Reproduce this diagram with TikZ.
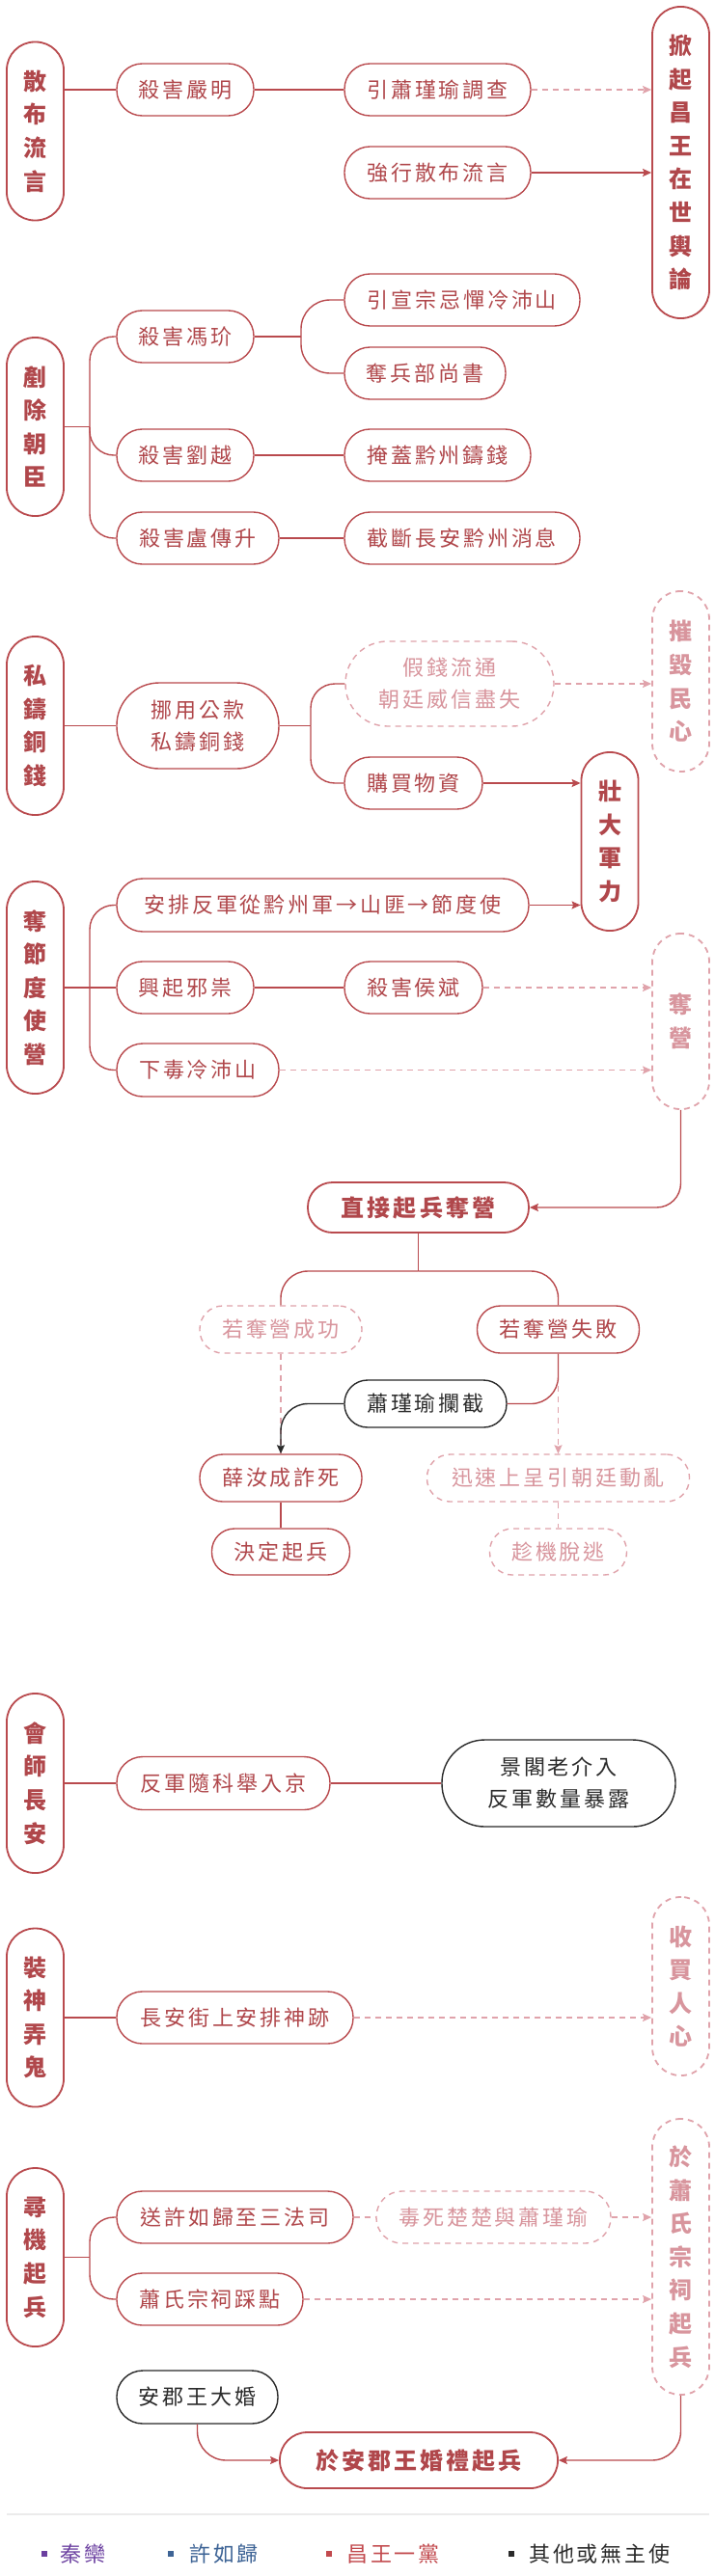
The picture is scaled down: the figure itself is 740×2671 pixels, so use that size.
\documentclass[tikz,border=0pt]{standalone}
\usepackage{fontspec}
\setmainfont{Noto Sans CJK TC}[LetterSpace=13]
\newfontfamily\vfont{Noto Sans CJK TC}
\usetikzlibrary{arrows.meta,calc}
\definecolor{cred}{HTML}{B94A4E}
\definecolor{ctext}{HTML}{B0474B}
\definecolor{cpink}{HTML}{E0A3AB}
\definecolor{cpinktext}{HTML}{D8959D}
\definecolor{cblack}{HTML}{2B2B2B}
\definecolor{cpurple}{HTML}{6B3FA0}
\definecolor{cblue}{HTML}{3E6496}
\definecolor{clegred}{HTML}{C24A4E}
\definecolor{csep}{HTML}{EBEBEB}
\begin{document}
\begin{tikzpicture}[x=1pt,y=-1pt,
  box/.style n args={2}{draw=cred, line width=1.4pt, text=ctext,
    rounded corners=#2*0.5pt-0.6pt, minimum width=#1pt, minimum height=#2pt,
    inner sep=0pt, align=center, font=\fontsize{22pt}{33pt}\selectfont},
  dbox/.style n args={2}{box={#1}{#2}, draw=cpink, text=cpinktext, dash pattern=on 6pt off 5pt},
  kbox/.style n args={2}{box={#1}{#2}, draw=cblack, text=cblack},
  bbox/.style n args={2}{box={#1}{#2}, line width=1.8pt, font=\fontsize{24pt}{33pt}\selectfont\bfseries},
  vp/.style={draw=cred, line width=1.8pt, text=ctext, rounded corners=29pt,
    minimum width=59pt, minimum height=#1pt, inner sep=0pt, align=center,
    font=\vfont\fontsize{24pt}{34.6pt}\selectfont\bfseries},
  dvp/.style={vp=#1, draw=cpink, text=cpinktext, dash pattern=on 6pt off 5pt},
  tip/.tip={Stealth[length=9pt,width=8pt,inset=1.5pt]},
  conn/.style={draw=cred, line width=1.4pt},
  aconn/.style={conn, -{tip}},
  kconn/.style={draw=cblack, line width=1.4pt, -{tip}},
  dline/.style={draw=cpink, line width=1.4pt, dash pattern=on 6pt off 5pt},
  dconn/.style={dline, -{tip}},
  legtext/.style={anchor=west, inner sep=0pt, font=\fontsize{22pt}{26pt}\selectfont},
  legsq/.style={minimum size=6pt, inner sep=0pt}
]
\fill[white] (0,0) rectangle (740,2671);
\useasboundingbox (0,0) rectangle (740,2671);

% ---------- Section 1
\node[vp=185] (sbly) at (36.5,136) {散\\布\\流\\言};
\node[box={142}{54}] (shym) at (192,93) {殺害嚴明};
\node[box={193}{54}] (yxjy) at (453.5,93) {引蕭瑾瑜調查};
\node[box={193}{54}] (qxsb) at (453.5,179) {強行散布流言};
\node[vp=323] (xqcw) at (705.5,168.5) {掀\\起\\昌\\王\\在\\世\\輿\\論};
\draw[conn] (sbly.east |- shym.west) -- (shym.west);
\draw[conn] (shym.east) -- (yxjy.west);
\draw[dconn] (yxjy.east) -- (xqcw.west |- yxjy.east);
\draw[aconn] (qxsb.east) -- (xqcw.west |- qxsb.east);

% ---------- Section 2
\node[vp=185] (ccch) at (36.5,442.5) {剷\\除\\朝\\臣};
\node[box={142}{54}] (shfj) at (192,349) {殺害馮玠};
\node[box={244}{54}] (yxzj) at (479,311) {引宣宗忌憚冷沛山};
\node[box={167}{54}] (dbbs) at (440.5,387) {奪兵部尚書};
\node[box={142}{54}] (shly) at (192,472) {殺害劉越};
\node[box={193}{54}] (ygqz) at (453.5,472) {掩蓋黔州鑄錢};
\node[box={168}{54}] (shlc) at (205,558) {殺害盧傳升};
\node[box={244}{54}] (jdca) at (479,558) {截斷長安黔州消息};
\coordinate (t2) at (93,442.5);
\coordinate (t2b) at (312,349);
\draw[conn] (ccch.east) -- (t2);
\draw[conn,rounded corners=25pt] (t2) |- (shfj.west);
\draw[conn,rounded corners=25pt] (t2) |- (shly.west);
\draw[conn,rounded corners=25pt] (t2) |- (shlc.west);
\draw[conn] (shfj.east) -- (t2b);
\draw[conn,rounded corners=30pt] (t2b) |- (yxzj.west);
\draw[conn,rounded corners=30pt] (t2b) |- (dbbs.west);
\draw[conn] (shly.east) -- (ygqz.west);
\draw[conn] (shlc.east) -- (jdca.west);

% ---------- Section 3
\node[vp=185] (sztq) at (36.5,752.5) {私\\鑄\\銅\\錢};
\node[box={168}{89}] (nygk) at (205,752.5) {挪用公款\\私鑄銅錢};
\node[dbox={216}{88}] (jqlt) at (466,709) {假錢流通\\朝廷威信盡失};
\node[box={143}{54}] (gmwz) at (428.5,812) {購買物資};
\node[dvp=187] (chmx) at (705.5,706.5) {摧\\毀\\民\\心};
\node[vp=185] (zdjl) at (632,872.5) {壯\\大\\軍\\力};
\coordinate (t3) at (322,752.5);
\draw[conn] (sztq.east) -- (nygk.west);
\draw[conn] (nygk.east) -- (t3);
\draw[conn,rounded corners=25pt] (t3) |- (jqlt.west);
\draw[conn,rounded corners=25pt] (t3) |- (gmwz.west);
\draw[dconn] (jqlt.east) -- (chmx.west |- jqlt.east);
\draw[aconn] (gmwz.east) -- (zdjl.west |- gmwz.east);

% ---------- Section 4
\node[vp=220] (djds) at (36.5,1024) {奪\\節\\度\\使\\營};
\node[box={427}{55}] (apfj) at (334.5,938.5) {安排反軍從黔州軍→山匪→節度使};
\node[box={142}{54}] (xqxs) at (192,1024) {興起邪祟};
\node[box={143}{54}] (shhb) at (428.5,1024) {殺害侯斌};
\node[box={168}{55}] (xdls) at (205,1109.5) {下毒冷沛山};
\node[dvp=182] (dyng) at (705.5,1059) {奪\\營};
\coordinate (t4) at (93,1024);
\draw[conn] (djds.east) -- (xqxs.west);
\draw[conn,rounded corners=25pt] (t4) |- (apfj.west);
\draw[conn,rounded corners=25pt] (t4) |- (xdls.west);
\draw[aconn] (apfj.east) -- (zdjl.west |- apfj.east);
\draw[conn] (xqxs.east) -- (shhb.west);
\draw[dconn] (shhb.east) -- (dyng.west |- shhb.east);
\draw[dconn] (xdls.east) -- (dyng.west |- xdls.east);

% ---------- Section 5
\node[bbox={229}{52}] (zjqb) at (433.5,1252) {直接起兵奪營};
\draw[aconn,rounded corners=25pt] (dyng.south) |- (zjqb.east);
\coordinate (t5) at (433.5,1318);
\node[dbox={168}{49}] (rcg) at (291,1378.5) {若奪營成功};
\node[box={168}{49}] (rsb) at (578.5,1378.5) {若奪營失敗};
\draw[conn] (zjqb.south) -- (t5);
\draw[conn,rounded corners=28pt] (t5) -| (rcg.north);
\draw[conn,rounded corners=28pt] (t5) -| (rsb.north);
\node[kbox={168}{49}] (xjyl) at (441,1455.5) {蕭瑾瑜攔截};
\node[box={168}{49}] (xrcz) at (291,1532.5) {薛汝成詐死};
\node[box={143}{48}] (jdqb) at (291,1609) {決定起兵};
\node[dbox={272}{49}] (xssc) at (578.5,1532.5) {迅速上呈引朝廷動亂};
\node[dbox={142}{48}] (cjtt) at (578.5,1609) {趁機脫逃};
\draw[dline] (rcg.south) -- (xrcz.north);
\draw[dconn] (rsb.south) -- (xssc.north);
\draw[conn,rounded corners=28pt] (rsb.south) |- (xjyl.east);
\draw[kconn,rounded corners=28pt] (xjyl.west) -| (xrcz.north);
\draw[conn] (xrcz.south) -- (jdqb.north);
\draw[dline] (xssc.south) -- (cjtt.north);

% ---------- Section 6
\node[vp=186] (hsca) at (36.5,1849) {會\\師\\長\\安};
\node[box={221}{55}] (fjsk) at (231.5,1849) {反軍隨科舉入京};
\node[kbox={242}{90}] (jglj) at (579,1849) {景閣老介入\\反軍數量暴露};
\draw[conn] (hsca.east) -- (fjsk.west);
\draw[conn] (fjsk.east) -- (jglj.west);

\node[vp=185] (zsng) at (36.5,2092) {裝\\神\\弄\\鬼};
\node[box={245}{54}] (cajs) at (243.5,2092) {長安街上安排神跡};
\node[dvp=185] (smrx) at (705.5,2059.5) {收\\買\\人\\心};
\draw[conn] (zsng.east) -- (cajs.west);
\draw[dconn] (cajs.east) -- (smrx.west |- cajs.east);

% ---------- Section 7
\node[vp=185] (xjqb) at (36.5,2340.5) {尋\\機\\起\\兵};
\node[box={245}{54}] (sxrg) at (243.5,2299) {送許如歸至三法司};
\node[dbox={243}{54}] (dscc) at (511.5,2299) {毒死楚楚與蕭瑾瑜};
\node[box={193}{54}] (xszc) at (217.5,2384) {蕭氏宗祠踩點};
\node[dvp=286] (yxsz) at (705.5,2340) {於\\蕭\\氏\\宗\\祠\\起\\兵};
\coordinate (t7) at (93,2340.5);
\draw[conn] (xjqb.east) -- (t7);
\draw[conn,rounded corners=25pt] (t7) |- (sxrg.west);
\draw[conn,rounded corners=25pt] (t7) |- (xszc.west);
\draw[dline] (sxrg.east) -- (dscc.west);
\draw[dconn] (dscc.east) -- (yxsz.west |- dscc.east);
\draw[dconn] (xszc.east) -- (yxsz.west |- xszc.east);
\node[kbox={167}{55}] (ajwd) at (204.5,2485.5) {安郡王大婚};
\node[bbox={288}{58}] (yajw) at (434,2551) {於安郡王婚禮起兵};
\draw[aconn,rounded corners=30pt] (yxsz.south) |- (yajw.east);
\draw[aconn,rounded corners=30pt] (ajwd.south) |- (yajw.west);

% ---------- Legend
\coordinate (sepl) at (7,2607);
\coordinate (sepr) at (735,2607);
\draw[csep, line width=2pt] (sepl) -- (sepr);
\node[legsq, fill=cpurple] (lq1) at (46,2648) {};
\node[legtext, text=cpurple] (lt1) at (62,2648) {秦欒};
\node[legsq, fill=cblue] (lq2) at (177,2648) {};
\node[legtext, text=cblue] (lt2) at (196,2648) {許如歸};
\node[legsq, fill=clegred] (lq3) at (341,2648) {};
\node[legtext, text=clegred] (lt3) at (359,2648) {昌王一黨};
\node[legsq, fill=cblack] (lq4) at (530,2648) {};
\node[legtext, text=cblack] (lt4) at (548,2648) {其他或無主使};
\end{tikzpicture}
\end{document}
